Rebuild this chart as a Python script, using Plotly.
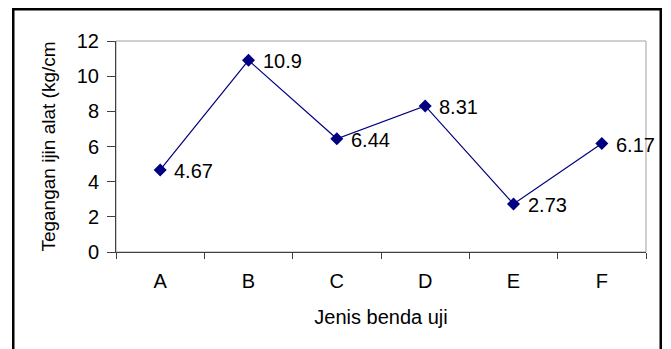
import plotly.graph_objects as go

# Test specimens and their allowable stress values
categories = ["A", "B", "C", "D", "E", "F"]
values = [4.67, 10.9, 6.44, 8.31, 2.73, 6.17]
y_ticks = [0, 2, 4, 6, 8, 10, 12]

FONT = "Liberation Sans, Arial, sans-serif"
NAVY = "#000080"
FS = 20

W, H = 671, 349
ML, MR, MT, MB = 116, 25, 41, 97
PW, PH = W - ML - MR, H - MT - MB


def px_x(px):
    return (px - ML) / PW


def px_y(py):
    return (H - MB - py) / PH


fig = go.Figure()
fig.add_trace(go.Scatter(
    x=categories, y=values,
    mode="lines+markers",
    line=dict(color=NAVY, width=1.2),
    marker=dict(symbol="diamond", size=10, color=NAVY),
    cliponaxis=False,
    hoverinfo="skip",
))

# value labels to the right of each point
for c, v in zip(categories, values):
    fig.add_annotation(
        x=c, y=v, text=str(v), showarrow=False,
        xanchor="left", yanchor="middle", xshift=12, yshift=-1,
        font=dict(family=FONT, size=FS, color="black"),
    )

# outer chart frame as filled bars (top, left, right), open at the page bottom
frame_bars = [
    (12, 8, 662, 10.5),    # top
    (12, 8, 14.5, 349),    # left
    (659.5, 8, 662, 349),  # right
]
for x0, y0, x1, y1 in frame_bars:
    fig.add_shape(type="rect", xref="paper", yref="paper",
                  x0=px_x(x0), x1=px_x(x1), y0=px_y(y1), y1=px_y(y0),
                  fillcolor="#000000", line=dict(width=0), layer="above")
# light plot-area border
fig.add_shape(type="rect", xref="paper", yref="paper",
              x0=0, x1=1, y0=0, y1=1,
              line=dict(color="#a0a0a0", width=1), layer="below")

fig.update_layout(
    width=W, height=H,
    margin=dict(l=ML, r=MR, t=MT, b=MB),
    paper_bgcolor="white", plot_bgcolor="white",
    showlegend=False,
    font=dict(family=FONT, size=FS, color="black"),
    xaxis=dict(
        type="category", range=[-0.5, 5.5],
        tickson="boundaries", ticks="outside", ticklen=6, tickwidth=1,
        tickcolor="#404040",
        showline=True, linecolor="#404040", linewidth=1,
        showgrid=False, zeroline=False,
        ticklabelstandoff=11,
        tickfont=dict(family=FONT, size=FS),
        title=dict(text="Jenis benda uji", font=dict(family=FONT, size=FS), standoff=18),
    ),
    yaxis=dict(
        range=[0, 12], tickvals=y_ticks,
        ticks="outside", ticklen=8, tickwidth=1, tickcolor="#404040",
        showline=True, linecolor="#404040", linewidth=1,
        showgrid=False, zeroline=False,
        ticklabelstandoff=4,
        tickfont=dict(family=FONT, size=FS),
        title=dict(text="Tegangan ijin alat (kg/cm", font=dict(family=FONT, size=FS - 1), standoff=16),
    ),
)

fig.write_html("out.html")
